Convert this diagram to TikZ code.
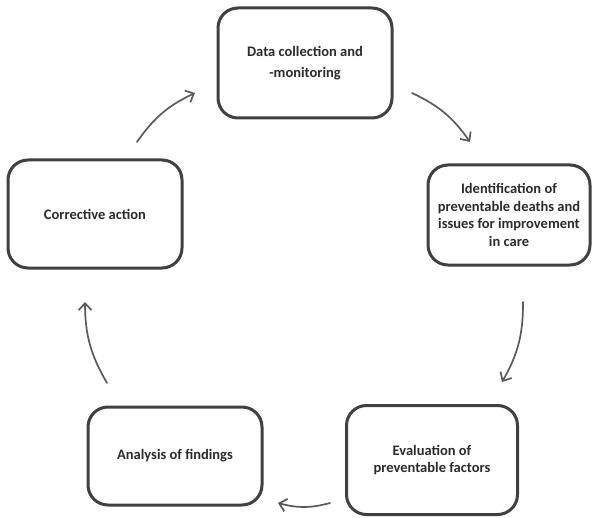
\documentclass[tikz,border=0pt]{standalone}
\usepackage{fontspec}
\setmainfont{Carlito}
\usetikzlibrary{arrows.meta}
\definecolor{boxline}{HTML}{404040}
\definecolor{arrline}{HTML}{5A5A5A}
\definecolor{txt}{HTML}{2B2B2B}
\tikzset{
	stage/.style={draw=boxline, line width=3pt, rounded corners=20pt, fill=white,
		align=center, text=txt, font=\fontsize{14.5}{17.5}\selectfont\bfseries, inner sep=3pt},
	flow/.style={draw=arrline, line width=1.7pt, line cap=round, bend left=15,
		-{Straight Barb[length=7pt,width=13pt,line width=1.7pt]}}
}
\begin{document}
\begin{tikzpicture}[x=1pt, y=1pt]
	\useasboundingbox (0,0) rectangle (593,517);
	\node[stage, minimum width=174pt, minimum height=110pt] (data) at (305,454) {Data collection and\\[4pt] -monitoring};
	\node[stage, minimum width=162pt, minimum height=100pt] (ident) at (509,302) {Identification of\\ preventable deaths and\\ issues for improvement\\ in care};
	\node[stage, minimum width=171pt, minimum height=109pt] (eval) at (432,57) {Evaluation of\\ preventable factors};
	\node[stage, minimum width=174pt, minimum height=98pt] (anal) at (175,61) {Analysis of findings};
	\node[stage, minimum width=174pt, minimum height=108pt] (corr) at (95,303) {Corrective action};
	% arrow ends between the stages
	\coordinate (d-i) at (412,424); \coordinate (i-d) at (470,375);
	\coordinate (i-e) at (523,215); \coordinate (e-i) at (502,135);
	\coordinate (e-a) at (330,14);  \coordinate (a-e) at (278,14);
	\coordinate (a-c) at (107,134); \coordinate (c-a) at (85,215);
	\coordinate (c-d) at (137,375); \coordinate (d-c) at (195,424);
	\foreach \s/\t in {d-i/i-d, i-e/e-i, e-a/a-e, a-c/c-a, c-d/d-c}
		\draw[flow] (\s) to (\t);
\end{tikzpicture}
\end{document}
